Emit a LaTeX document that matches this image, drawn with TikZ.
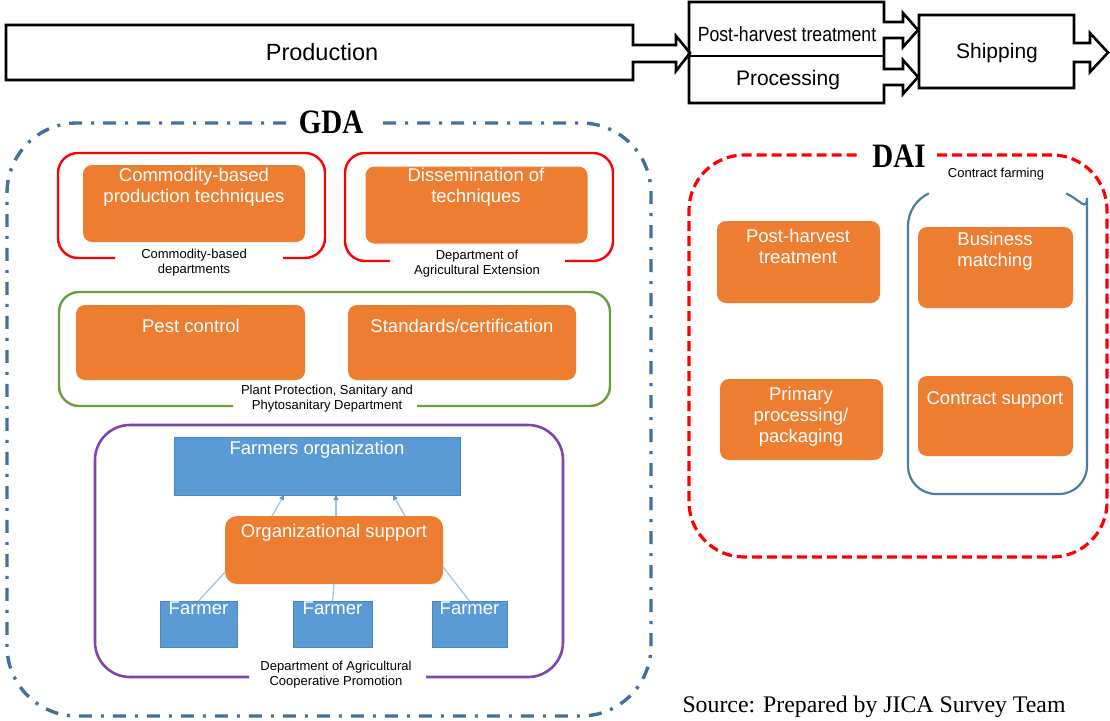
\documentclass[tikz,border=0pt]{standalone}
\usepackage{fontspec}
\setmainfont{Liberation Sans}
\newfontfamily\tnr{Liberation Serif}
\usetikzlibrary{arrows.meta}
\definecolor{orangeF}{HTML}{ED7D31}
\definecolor{blueF}{HTML}{5B9BD5}
\definecolor{blueD}{HTML}{4A86C0}
\definecolor{gdaC}{HTML}{41719C}
\definecolor{greenC}{HTML}{6A9E3F}
\definecolor{purpleC}{HTML}{7E45AE}
\definecolor{cfC}{HTML}{4E7BA8}
\definecolor{linkC}{HTML}{9DC3E6}
\newcommand\pxfont[2]{\fontsize{#1}{#2}\selectfont}
\tikzset{
  obox/.style={fill=orangeF, rounded corners=9pt, inner sep=0pt, outer sep=0pt},
  bbox/.style={fill=blueF, draw=blueD, line width=0.8pt, inner sep=0pt, outer sep=0pt},
  wtext/.style={text=white, align=center, inner sep=0pt, font=\pxfont{18.5}{21}},
  lbl/.style={align=center, inner sep=0pt, font=\pxfont{13}{14.8}},
  toptext/.style={inner sep=0pt, font=\pxfont{21}{24}},
  blk/.style={draw=black, line width=2.6pt, line join=miter},
  redbr/.style={draw=red, line width=2.4pt, rounded corners=20pt},
  greenbr/.style={draw=greenC, line width=2.4pt, rounded corners=20pt},
  purplebr/.style={draw=purpleC, line width=2.6pt, rounded corners=35pt},
  gdaline/.style={draw=gdaC, line width=3.4pt, rounded corners=70pt,
    dash pattern=on 13pt off 9pt on 3pt off 9pt},
  dailine/.style={draw=red, line width=3.2pt, rounded corners=55pt,
    dash pattern=on 10pt off 5pt},
  cfline/.style={draw=cfC, line width=2.2pt},
  uparrow/.style={draw=linkC, line width=1.3pt, -{Triangle[length=5pt,width=5pt,fill=blueF,color=blueF]}},
  link/.style={draw=linkC, line width=1.2pt},
  title/.style={inner sep=0pt, font=\tnr\bfseries\pxfont{29}{30}},
}
\begin{document}
\begin{tikzpicture}[x=1pt,y=-1pt]
\useasboundingbox (0,0) rectangle (1110,720);
\fill[white] (0,0) rectangle (1110,720);

% ---- value chain across the top ----
\draw[blk] (6,25) -- (633,25) -- (633,45) -- (676,45) -- (676,36) -- (690,53)
  -- (676,71) -- (676,62) -- (633,62) -- (633,80) -- (6,80) -- cycle;
\draw[blk] (689,2) -- (884,2) -- (884,22) -- (903,22) -- (903,13) -- (918,30)
  -- (903,47) -- (903,38) -- (884,38) -- (884,69) -- (903,69) -- (903,60)
  -- (918,77) -- (903,94) -- (903,85) -- (884,85) -- (884,103) -- (689,103) -- cycle;
\draw[blk] (689,56) -- (884,56);
\draw[blk] (919,15) -- (1074,15) -- (1074,43) -- (1090,43) -- (1090,33) -- (1108,52.5)
  -- (1090,72) -- (1090,62) -- (1074,62) -- (1074,88) -- (919,88) -- cycle;
\node[toptext, font=\pxfont{23.5}{26}] (prod) at (322,52) {Production};
\node[toptext] (pht) at (787,34) {\pxfont{20.5}{24}\scalebox{0.86}[1]{Post-harvest treatment}};
\node[toptext] (proc) at (788,80) {Processing};
\node[toptext] (ship) at (997,53) {Shipping};

% ---- GDA ----
\draw[gdaline] (383,123) -- (651,123) -- (651,716) -- (7,716) -- (7,123) -- (290,123);
\node[title] (gda) at (331,122) {\scalebox{1}[1.18]{GDA}};

\draw[redbr] (115,258) -- (58,258) -- (58,153) -- (325,153) -- (325,258) -- (283,258);
\node[obox, minimum width=222pt, minimum height=77pt] (cpt) at (194,203.5) {};
\node[wtext] (cptT) at (194,187) {Commodity-based\\production techniques};
\node[lbl] (cbd) at (194,263) {Commodity-based\\departments};

\draw[redbr] (390,261) -- (345,261) -- (345,153) -- (613,153) -- (613,261) -- (565,261);
\node[obox, minimum width=222pt, minimum height=77pt] (dot) at (476.5,205) {};
\node[wtext] (dotT) at (476,187) {Dissemination of\\techniques};
\node[lbl] (dae) at (477,263.5) {Department of\\Agricultural Extension};

\draw[greenbr] (233,406) -- (59,406) -- (59,292) -- (610,292) -- (610,406) -- (417,406);
\node[obox, minimum width=229pt, minimum height=75pt] (pest) at (190.5,342.5) {};
\node[wtext] (pestT) at (191,326) {Pest control};
\node[obox, minimum width=228pt, minimum height=75pt] (std) at (462,342.5) {};
\node[wtext] (stdT) at (462,326) {Standards/certification};
\node[lbl] (ppd) at (327,399) {Plant Protection, Sanitary and\\Phytosanitary Department};

\draw[purplebr] (249,677) -- (95,677) -- (95,425) -- (563,425) -- (563,677) -- (426,677);
\node[bbox, minimum width=286pt, minimum height=58pt] (fo) at (317,466) {};
\node[wtext] (foT) at (317,449.5) {Farmers organization};
\node[obox, rounded corners=12pt, minimum width=218pt, minimum height=68pt] (os) at (334,550) {};
\node[wtext] (osT) at (334,533) {Organizational support};
\node[bbox, minimum width=77pt, minimum height=46pt] (f1) at (198.5,624) {};
\node[bbox, minimum width=79pt, minimum height=46pt] (f2) at (332.5,624) {};
\node[bbox, minimum width=75pt, minimum height=46pt] (f3) at (469.5,624) {};
\node[wtext] (f1T) at (198.5,608) {Farmer};
\node[wtext] (f2T) at (332.5,608) {Farmer};
\node[wtext] (f3T) at (469.5,608) {Farmer};

\draw[uparrow] ([xshift=-62pt]os.north) -- ([xshift=-33pt]fo.south);
\draw[uparrow] ([xshift=2pt]os.north) -- ([xshift=19pt]fo.south);
\draw[uparrow] ([xshift=71pt]os.north) -- ([xshift=76pt]fo.south);
\draw[link] ([yshift=-22pt]os.west) -- (f1.north);
\draw[link] (os.south) -- (f2.north);
\draw[link] ([yshift=-17pt]os.east) -- (f3.north);
\node[lbl] (dacp) at (336,675) {Department of Agricultural\\Cooperative Promotion};

% ---- DAI ----
\draw[dailine] (937,155) -- (1107,155) -- (1107,557) -- (689,557) -- (689,155) -- (860,155);
\node[title] (dai) at (899,156) {\scalebox{1}[1.18]{DAI}};
\node[lbl] (cf) at (996,174) {Contract farming};
% open-topped frame around the contract farming services
\draw[cfline] (928.8,193.4) arc[start angle=245, end angle=180, radius=36]
  [rounded corners=28pt] -- (908,494) -- (1087,494) -- (1087,226)
  [sharp corners] arc[start angle=0, end angle=-65, radius=36];

\node[obox, minimum width=163pt, minimum height=82pt] (dph) at (798.5,262) {};
\node[wtext] (dphT) at (798,246) {Post-harvest\\treatment};
\node[obox, minimum width=155pt, minimum height=81pt] (bm) at (995.5,267.5) {};
\node[wtext] (bmT) at (995,251) {Business\\matching};
\node[obox, minimum width=163pt, minimum height=81pt] (pp) at (801.5,419.5) {};
\node[wtext] (ppT) at (801,417) {Primary\\processing/\\packaging};
\node[obox, minimum width=155pt, minimum height=80pt] (cs) at (995.5,416) {};
\node[wtext] (csT) at (995,400) {Contract support};

\node[inner sep=0pt, font=\tnr\pxfont{23.8}{26}] (src) at (874,707) {Source: Prepared by JICA Survey Team};
\end{tikzpicture}
\end{document}
